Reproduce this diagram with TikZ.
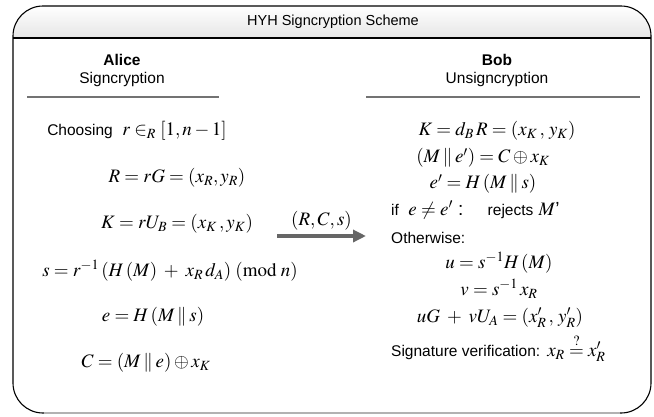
\documentclass[tikz,border=0pt]{standalone}
\usepackage{mathptmx}
\usepackage[no-math]{fontspec}
\setmainfont{Liberation Sans}
\usetikzlibrary{arrows.meta}
\newcommand\bodytxt{\fontsize{15.5}{18}\selectfont}
\newcommand\pipe{\mathbin{\|}}
\begin{document}
\begin{tikzpicture}[x=1pt,y=-1pt,
  frame/.style={line width=1.1pt,black},
  hdr/.style={font=\fontsize{14.5}{17}\selectfont},
  party/.style={font=\fontsize{15.5}{18}\selectfont,align=center},
  rule/.style={line width=1.8pt,black!55},
  eq/.style={font=\fontsize{19}{22}\selectfont,inner sep=0pt},
  txt/.style={font=\bodytxt,inner sep=0pt},
  msg/.style={line width=3.6pt,black!60,-{Triangle[length=13pt,width=12pt]}}]
\useasboundingbox (0,0) rectangle (654,416);
\shade[top color=white,bottom color=black!10] (13,38) {[rounded corners=30pt] -- (13,6) -- (651,6)} -- (651,38) -- cycle;
\draw[frame,rounded corners=30pt] (13,6) rectangle (651,413);
\draw[line width=1.1pt,black!30] (44,413) -- (620,413);
\draw[frame] (13,38) -- (651,38);
\node[hdr] (title) at (333,22) {HYH Signcryption Scheme};
\node[party] (alice) at (122,70) {\textbf{Alice}\\Signcryption};
\node[party] (bob) at (497,70) {\textbf{Bob}\\Unsigncryption};
\draw[rule] (27,97) -- (219,97);
\draw[rule] (366,97) -- (640,97);
% Alice
\node[eq] (a1) at (137,131) {{\bodytxt Choosing}\enspace $r\in_R[1,n-1]$};
\node[eq] (a2) at (177,178) {$R=rG=(x_R,y_R)$};
\node[eq] (a3) at (177,224) {$K=rU_B=(x_K\,,y_K)$};
\node[eq] (a4) at (170,271) {$s=r^{-1}\,(H\,(M)\;+\;x_R\,d_A)\;(\mathrm{mod}\;n)$};
\node[eq] (a5) at (153,317) {$e=H\,(M\pipe s)$};
\node[eq] (a6) at (146,363) {$C=(M\pipe e)\oplus x_K$};
% arrow
\coordinate (ms) at (277,236);
\coordinate (me) at (366,236);
\draw[msg] (ms) -- (me) node[midway,above=4pt,black,font=\fontsize{19}{22}\selectfont,inner sep=0pt] (lab) {$(R,C,s)$};
% Bob
\node[eq] (b1) at (497,131) {$K=d_B\,R=(x_K\,,\,y_K)$};
\node[eq] (b2) at (483,158) {$(M\pipe e')=C\oplus x_K$};
\node[eq] (b3) at (483,184) {$e'=H\,(M\pipe s)$};
\node[eq,anchor=west] (b4) at (391,210) {{\bodytxt if}\enspace $e\neq e'$ :\quad\ {\bodytxt rejects} $M$\textquoteright};
\node[txt,anchor=west] (b5) at (391,238) {Otherwise:};
\node[eq] (b6) at (499,263) {$u=s^{-1}H\,(M)$};
\node[eq] (b7) at (499,289) {$v=s^{-1}\,x_R$};
\node[eq] (b8) at (500,318) {$uG\;+\;vU_A=(x'_R\,,\,y'_R)$};
\node[eq,anchor=west] (b9) at (391,348) {{\bodytxt Signature verification:} $x_R\stackrel{?}{=}x'_R$};
\end{tikzpicture}
\end{document}
